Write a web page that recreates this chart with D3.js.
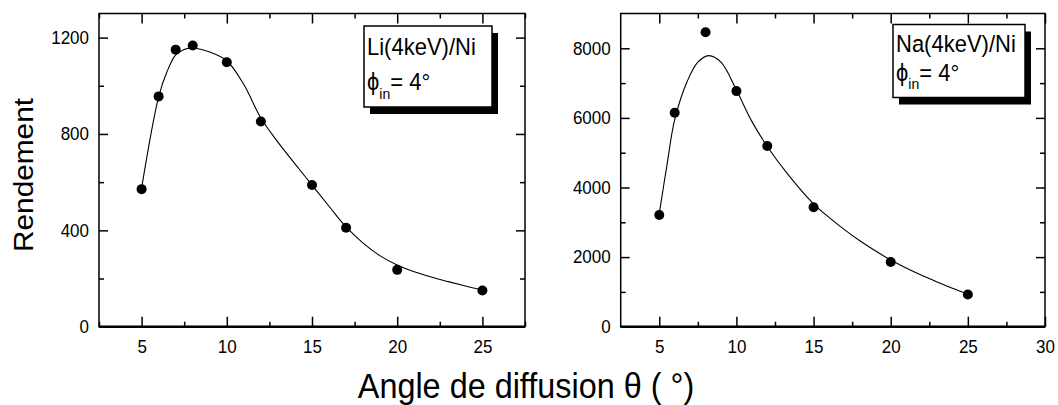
<!DOCTYPE html>
<html>
<head>
<meta charset="utf-8">
<script src="https://cdn.jsdelivr.net/npm/d3@7"></script>
<style>
  html, body { margin: 0; padding: 0; background: #fff; }
  svg { display: block; font-family: "Liberation Sans", Arial, Helvetica, sans-serif; }
  .tick text { fill: #000; }
  .tick line { stroke: #000; }
</style>
</head>
<body>
<svg id="chart" width="1058" height="405"></svg>
<script>
// Measured yields vs scattering angle (degrees)
const angleLi = [5, 6, 7, 8, 10, 12, 15, 17, 20, 25];
const yieldLi = [571, 956, 1150, 1167, 1098, 852, 588, 411, 236, 150];
const angleNa = [5, 6, 8, 10, 12, 15, 20, 25];
const yieldNa = [3210, 6150, 8460, 6770, 5195, 3430, 1860, 925];

// Smooth fitted curves drawn through the data
const fitAngleLi = [5, 6, 6.5, 7, 7.5, 8, 9, 10, 11, 12, 13, 14, 15, 16, 17, 18, 19, 20, 21, 22, 23, 24, 25];
const fitYieldLi = [575, 954, 1060, 1128, 1151, 1156, 1140, 1104, 1005, 866, 766, 676, 588, 500, 414, 347, 294, 256, 228, 206, 187, 169, 152];
const fitAngleNa = [5, 5.5, 6, 6.8, 7.5, 8.2, 9, 10, 11, 12, 13.3, 15, 16, 17, 18, 19, 20, 21, 22, 23, 24, 25];
const fitYieldNa = [3250, 4650, 5950, 7040, 7600, 7790, 7600, 6800, 5900, 5180, 4400, 3530, 3140, 2790, 2470, 2180, 1915, 1685, 1475, 1285, 1105, 940];

// Axis ticks
const xMajorLi = [5, 10, 15, 20, 25];
const xMinorLi = [2.5, 7.5, 12.5, 17.5, 22.5, 27.5];
const yMajorLi = [0, 400, 800, 1200];
const yMinorLi = [200, 600, 1000];
const xMajorNa = [5, 10, 15, 20, 25, 30];
const xMinorNa = [7.5, 12.5, 17.5, 22.5, 27.5];
const yMajorNa = [0, 2000, 4000, 6000, 8000];
const yMinorNa = [1000, 3000, 5000, 7000];

// Legend and title text
const legendLi = "Li(4keV)/Ni";
const legendNa = "Na(4keV)/Ni";
const yTitle = "Rendement";
const xTitle = "Angle de diffusion \u03b8 ( \u00b0)";

// glyphs are drawn slightly tall
const STRETCH = 1.065;

const svg = d3.select("#chart");

function styleAxis(a, withText) {
  a.select(".domain").remove();
  a.selectAll("line").attr("stroke-width", 1.5);
  if (withText) {
    a.selectAll("text").attr("font-size", 17).attr("transform", `scale(1,${STRETCH})`);
  }
}

function panel(cfg) {
  const { x0, x1, y0, y1, xDomain, yDomain } = cfg;
  const x = d3.scaleLinear().domain(xDomain).range([x0, x1]);
  const y = d3.scaleLinear().domain(yDomain).range([y1, y0]);
  const g = svg.append("g");

  // bottom axis, ticks pointing in
  g.append("g").attr("transform", `translate(0,${y1})`)
    .call(d3.axisBottom(x).tickValues(cfg.xMajor).tickSize(-10).tickSizeOuter(0).tickPadding(12.5).tickFormat(d3.format("d")))
    .call(a => styleAxis(a, true));
  g.append("g").attr("transform", `translate(0,${y1})`)
    .call(d3.axisBottom(x).tickValues(cfg.xMinor).tickSize(-5).tickSizeOuter(0).tickFormat(""))
    .call(a => styleAxis(a, false));
  // top axis
  g.append("g").attr("transform", `translate(0,${y0})`)
    .call(d3.axisTop(x).tickValues(cfg.xMajor).tickSize(-10).tickSizeOuter(0).tickFormat(""))
    .call(a => styleAxis(a, false));
  g.append("g").attr("transform", `translate(0,${y0})`)
    .call(d3.axisTop(x).tickValues(cfg.xMinor).tickSize(-5).tickSizeOuter(0).tickFormat(""))
    .call(a => styleAxis(a, false));
  // left axis
  g.append("g").attr("transform", `translate(${x0},0)`)
    .call(d3.axisLeft(y).tickValues(cfg.yMajor).tickSize(-9).tickSizeOuter(0).tickPadding(10).tickFormat(d3.format("d")))
    .call(a => styleAxis(a, true));
  g.append("g").attr("transform", `translate(${x0},0)`)
    .call(d3.axisLeft(y).tickValues(cfg.yMinor).tickSize(-5).tickSizeOuter(0).tickFormat(""))
    .call(a => styleAxis(a, false));
  // right axis
  g.append("g").attr("transform", `translate(${x1},0)`)
    .call(d3.axisRight(y).tickValues(cfg.yMajor).tickSize(-9).tickSizeOuter(0).tickFormat(""))
    .call(a => styleAxis(a, false));
  g.append("g").attr("transform", `translate(${x1},0)`)
    .call(d3.axisRight(y).tickValues(cfg.yMinor).tickSize(-5).tickSizeOuter(0).tickFormat(""))
    .call(a => styleAxis(a, false));

  // frame
  g.append("rect").attr("x", x0).attr("y", y0).attr("width", x1 - x0).attr("height", y1 - y0)
    .attr("fill", "none").attr("stroke", "#000").attr("stroke-width", 1.5);
  g.append("line").attr("x1", x0).attr("x2", x1).attr("y1", y1).attr("y2", y1)
    .attr("stroke", "#000").attr("stroke-width", 2.5);

  // fitted curve
  const line = d3.line().x(d => x(d[0])).y(d => y(d[1])).curve(d3.curveCatmullRom.alpha(0.5));
  g.append("path").datum(d3.zip(cfg.fitX, cfg.fitY))
    .attr("d", line).attr("fill", "none").attr("stroke", "#000").attr("stroke-width", 1.1);

  // data points
  g.selectAll("circle.pt").data(d3.zip(cfg.dataX, cfg.dataY)).join("circle")
    .attr("class", "pt").attr("cx", d => x(d[0])).attr("cy", d => y(d[1])).attr("r", 5).attr("fill", "#000");

  // legend box with drop shadow
  const L = cfg.legend;
  g.append("rect").attr("x", L.x + 6).attr("y", L.y + 7).attr("width", L.w).attr("height", L.h).attr("fill", "#000");
  g.append("rect").attr("x", L.x).attr("y", L.y).attr("width", L.w).attr("height", L.h)
    .attr("fill", "#fff").attr("stroke", "#000").attr("stroke-width", 1.5);
  g.append("text").attr("transform", `translate(${L.x + 3},${L.y + L.line1}) scale(1,${STRETCH})`)
    .attr("font-size", 22).text(L.title);
  const t2 = g.append("text").attr("transform", `translate(${L.x + 3},${L.y + L.line2}) scale(1,${STRETCH})`)
    .attr("font-size", 22);
  t2.append("tspan").text("\u03d5");
  t2.append("tspan").attr("font-size", 14).attr("dy", 8).text("in");
  t2.append("tspan").attr("dy", -8).text("= 4\u00b0");
}

panel({
  x0: 99, x1: 525, y0: 13.5, y1: 326.7,
  xDomain: [2.5, 27.5], yDomain: [0, 1300],
  xMajor: xMajorLi, xMinor: xMinorLi, yMajor: yMajorLi, yMinor: yMinorLi,
  dataX: angleLi, dataY: yieldLi, fitX: fitAngleLi, fitY: fitYieldLi,
  legend: { x: 364, y: 26, w: 128, h: 81, line1: 29, line2: 64, title: legendLi }
});

panel({
  x0: 620.7, x1: 1045, y0: 13.5, y1: 326.7,
  xDomain: [2.5, 30], yDomain: [0, 9000],
  xMajor: xMajorNa, xMinor: xMinorNa, yMajor: yMajorNa, yMinor: yMinorNa,
  dataX: angleNa, dataY: yieldNa, fitX: fitAngleNa, fitY: fitYieldNa,
  legend: { x: 893, y: 24.5, w: 132, h: 73, line1: 27, line2: 56, title: legendNa }
});

// axis titles
svg.append("text").attr("transform", `translate(33,175) rotate(-90) scale(${STRETCH},1)`)
  .attr("text-anchor", "middle").attr("font-size", 28).text(yTitle);
svg.append("text").attr("transform", `translate(526,398) scale(1,${STRETCH})`)
  .attr("text-anchor", "middle").attr("font-size", 32.4).text(xTitle);
</script>
</body>
</html>
